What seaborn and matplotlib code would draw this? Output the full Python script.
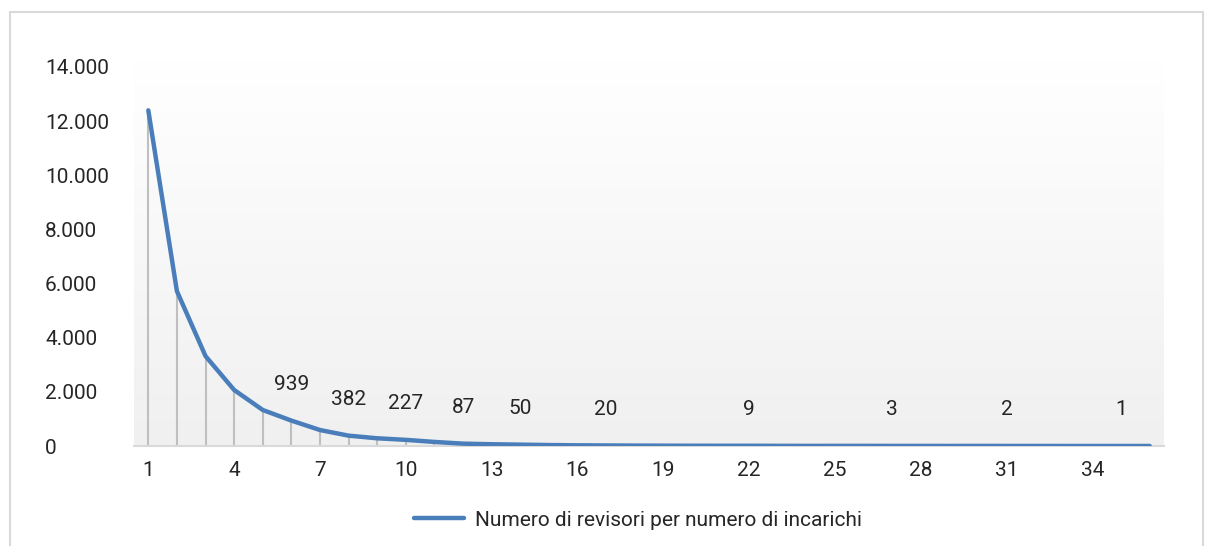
import numpy as np
import pandas as pd
import matplotlib
matplotlib.use("Agg")
import matplotlib.pyplot as plt
import seaborn as sns
from matplotlib.patches import Rectangle
from matplotlib.ticker import FuncFormatter

# ---- data ----
incarichi = list(range(1, 37))
revisori = [12400, 5720, 3320, 2070, 1330, 939, 590, 382, 285, 227,
            150, 87, 65, 50, 35, 25, 20, 15, 12, 10,
            9, 9, 6, 4, 5, 5, 3, 3, 2, 3,
            2, 2, 1, 1, 1, 1]
label_points = [6, 8, 10, 12, 14, 17, 22, 27, 31, 35]
x_ticks = list(range(1, 37, 3))
y_ticks = list(range(0, 14001, 2000))
series_name = "Numero di revisori per numero di incarichi"

df = pd.DataFrame({"incarichi": incarichi, "revisori": revisori})

sns.set_style("white")
plt.rcParams["font.family"] = ["Roboto", "DejaVu Sans"]
FS = 15

W, H = 1206, 546
fig = plt.figure(figsize=(W / 100, H / 100), dpi=100)
fig.patch.set_facecolor("white")

# outer frame
fig.add_artist(Rectangle((10 / W, -0.05), (1203 - 10) / W, 1.05 - 12 / H,
                         transform=fig.transFigure, fill=False,
                         edgecolor="#d9d9d9", linewidth=1.5))

left, right, top, bottom = 134, 1164, 67, 446
ax = fig.add_axes([left / W, (H - bottom) / H, (right - left) / W, (bottom - top) / H])

# gradient background (white at top, light grey at bottom)
grad = np.linspace(0, 1, 256).reshape(-1, 1)
cmap = matplotlib.colors.LinearSegmentedColormap.from_list("g", ["#ffffff", "#f0f0f0"])
ax.imshow(grad, extent=[0, 1, 0, 1.02], transform=ax.transAxes, cmap=cmap,
          aspect="auto", zorder=0, vmin=0, vmax=1, clip_on=False)

# drop lines
ax.vlines(df["incarichi"], 0, df["revisori"], color="#bfbfbf", linewidth=1.5, zorder=1)

sns.lineplot(data=df, x="incarichi", y="revisori", ax=ax, color="#4a7ebb",
             linewidth=3.2, label=series_name, zorder=3, legend=False)

for xv in label_points:
    yv = revisori[xv - 1]
    ax.annotate(f"{yv}", (xv, yv), xytext=(0, 26), textcoords="offset points",
                ha="center", va="center", fontsize=FS, color="#262626")

ax.set_xlim(0.5, 36.5)
ax.set_ylim(0, 14000)
ax.set_xticks(x_ticks)
ax.set_yticks(y_ticks)
ax.yaxis.set_major_formatter(FuncFormatter(lambda v, p: f"{int(v):,}".replace(",", ".")))
ax.tick_params(axis="both", length=0, labelsize=FS, labelcolor="#262626")
ax.tick_params(axis="x", pad=11)
ax.tick_params(axis="y", pad=64)
for lab in ax.get_yticklabels():
    lab.set_horizontalalignment("left")
for s in ["top", "right", "left"]:
    ax.spines[s].set_visible(False)
ax.spines["bottom"].set_color("#d9d9d9")
ax.spines["bottom"].set_linewidth(1.5)
ax.set_xlabel("")
ax.set_ylabel("")

handle = matplotlib.lines.Line2D([], [], color="#4a7ebb", linewidth=3.2)
fig.legend([handle], [series_name], loc="center", bbox_to_anchor=(638 / W, (H - 520) / H),
           frameon=False, fontsize=FS, handlelength=2.4, handletextpad=0.5,
           labelcolor="#262626")

fig.savefig("out.png", dpi=100)
